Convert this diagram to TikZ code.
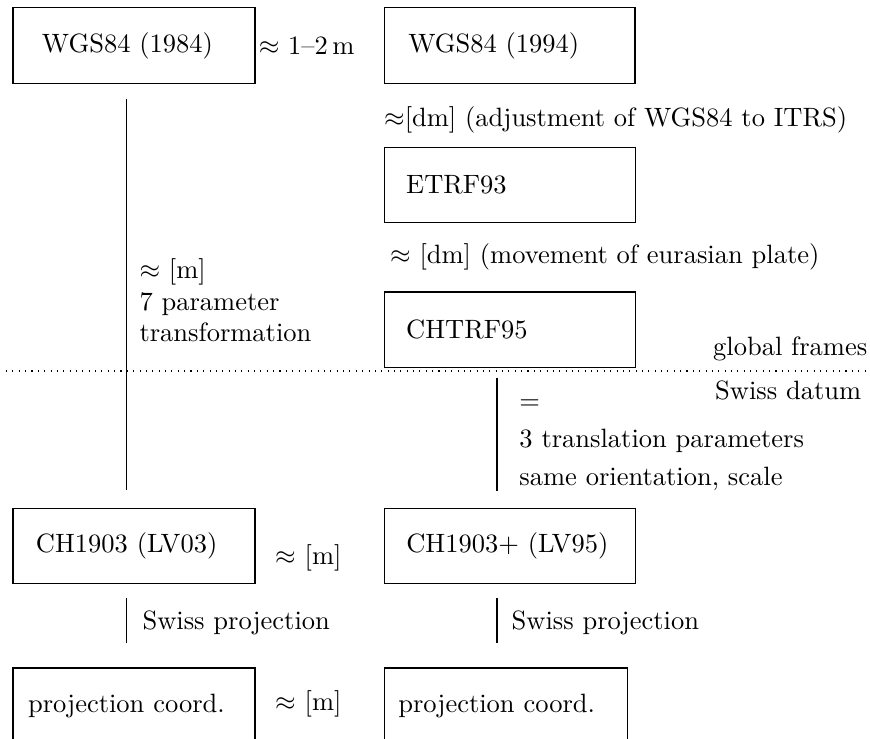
\documentclass[tikz,border=0pt]{standalone}
\usepackage{amsmath}
\usetikzlibrary{positioning}
\tikzset{%
        node distance=1.7cm
}
\tikzstyle{frame}=[
    draw = black,
    line width = 0.5pt,
    minimum height = 1cm,
    align = left
]
\tikzstyle{every edge}=[
    draw = black,
    line width = 0.4pt
]

\begin{document}
\begin{tikzpicture}
        \useasboundingbox (0,0) rectangle (11.54,-9.80);
        % global frames
        \node[frame, text width=2.44cm, inner xsep=0.385cm] (wgs84) at (1.777,-0.603) {WGS84 (1984)};
        \node[frame, text width=2.69cm, inner xsep=0.318cm] (wgs94) [right=1.698cm of wgs84] {WGS84 (1994)};
        \node[frame, text width=2.745cm, inner xsep=0.292cm] (etrf) [below=0.835cm of wgs94] {ETRF93};
        \node[frame, text width=2.745cm, inner xsep=0.292cm] (chtrf) [below=0.902cm of etrf] {CHTRF95};
        % swiss datum
        \node[frame, text width=2.6cm, inner xsep=0.305cm] (lv03) [below=5.623cm of wgs84] {CH1903 (LV03)};
        \node[frame, text width=2.745cm, inner xsep=0.292cm] (lv95) [right=1.698cm of lv03] {CH1903+ (LV95)};
        \node[frame, text width=2.81cm, inner xsep=0.2cm] (proj03) [below=1.101cm of lv03] {projection coord.};
        \node[frame, text width=2.85cm, inner xsep=0.186cm] (proj95) [right=1.698cm of proj03] {projection coord.};

        % labels (base = last line)
        \node[inner sep=0pt] (d12) [right=1pt of wgs84] {$\approx$ 1--2\,m};
        \node[inner sep=0pt] (adj) [below=0.477cm of wgs94.south west, anchor=west] {$\approx$[dm] (adjustment of WGS84 to ITRS)};
        \node[inner sep=0pt] (move) [below right=0.438cm and 0.08cm of etrf.south west, anchor=west] {$\approx$ [dm] (movement of eurasian plate)};
        \node[inner sep=0pt, anchor=base west, align=left] (seven) at (1.844,-4.536) {$\approx$ [m]\\7 parameter\\transformation};
        \node[inner sep=0pt, anchor=base east] (glob) at (11.51,-4.72) {global frames};
        \node[inner sep=0pt, anchor=base east] (swiss) at (11.43,-5.30) {Swiss datum};
        \node[inner sep=0pt, anchor=base west, align=left] (trans) at (6.883,-6.446) {$=$\\[2.5pt]3 translation parameters\\[2.5pt]same orientation, scale};
        \node[inner sep=0pt] (mlv) at (4.09,-7.40) {$\approx$ [m]};
        \node[inner sep=0pt] (mproj) at (4.09,-9.33) {$\approx$ [m]};
        \node[inner sep=0pt, anchor=west] (projl) at (1.884,-8.263) {Swiss projection};
        \node[inner sep=0pt, anchor=west] (projr) at (6.78,-8.263) {Swiss projection};

        % line ends
        \coordinate (a1) at (1.684,-1.313);
        \coordinate (a2) at (1.684,-6.499);
        \coordinate (b1) at (6.592,-5.013);
        \coordinate (b2) at (6.592,-6.512);
        \coordinate (c1) at (1.684,-7.931);
        \coordinate (c2) at (1.684,-8.528);
        \coordinate (e1) at (6.592,-7.931);
        \coordinate (e2) at (6.592,-8.528);
        \coordinate (g1) at (0.08,-4.921);
        \coordinate (g2) at (11.54,-4.921);
        \path
        (a1) edge (a2)
        (b1) edge (b2)
        (c1) edge (c2)
        (e1) edge (e2)
        (g1) edge[dotted] (g2)
        ;
\end{tikzpicture}
\end{document}
